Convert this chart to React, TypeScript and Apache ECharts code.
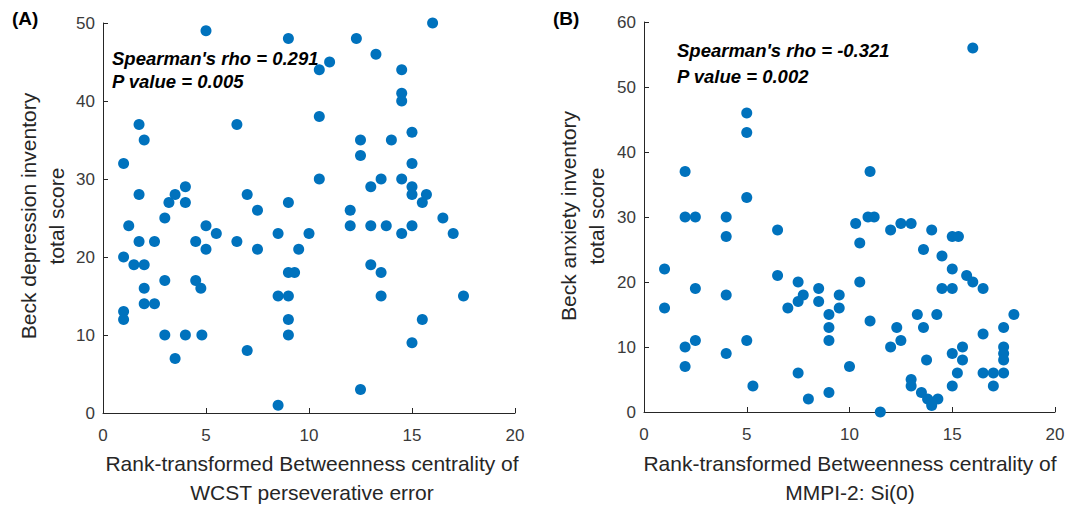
import React, { useEffect, useRef } from "react";
import * as echarts from "echarts";

// Panel A: WCST perseverative error vs BDI
const aX = [5, 9, 1.75, 2, 6.5, 1, 1.75, 4, 3.5, 3.2, 4, 7, 7.5, 9, 3, 1.25, 5,
  1.75, 2.5, 1, 1.5, 2, 2, 3, 2, 2.5, 1, 1, 3, 4, 4.8, 3.5, 4.5, 4.75, 4.5, 5.5, 5, 6.5, 7.5, 7, 8.5, 10, 9.5, 8.5, 9, 9.3, 8.5, 9, 9, 9,
  16, 12.3, 13.25, 11, 10.5, 14.5, 14.5, 14.5, 10.5, 15, 12.5, 14, 12.5, 15, 10.5, 13.5, 14.5, 13, 15, 15, 15.7, 15.5, 12, 16.5, 12, 13, 13.75, 15,
  14.5, 17, 13, 13.5, 13.5, 17.5, 15.5, 15, 12.5];
const aY = [49, 48, 37, 35, 37, 32, 28, 29, 28, 27, 27, 28, 26, 27, 25, 24, 24,
  22, 22, 20, 19, 19, 16, 17, 14, 14, 13, 12, 10, 10, 10, 7, 17, 16, 22, 23, 21, 22, 21, 8, 23, 23, 21, 1, 18, 18, 15, 15, 12, 10,
  50, 48, 46, 45, 44, 44, 41, 40, 38, 36, 35, 35, 33, 32, 30, 30, 30, 29, 29, 28, 28, 27, 26, 25, 24, 24, 24, 24,
  23, 23, 19, 18, 15, 15, 12, 9, 3];

// Panel B: MMPI-2 Si(0) vs BAI
const bX = [5, 5, 2, 5, 2, 2.5, 4, 16, 11, 10.3, 10.9, 11.2, 12, 12.5, 13, 14, 4, 6.5, 1, 6.5, 7.5, 2.5, 4, 7.75, 7.5, 8.5, 8.5, 9.5, 9.5, 7, 9, 9, 9, 1, 2.5, 2, 2, 4, 5, 5.3, 7.5, 8, 9, 10,
  15, 15.3, 10.5, 13.6, 14.5, 15, 15.7, 16, 16.5, 14.5, 15, 10.5, 11, 13.3, 14.25, 12.3, 13.6, 18, 17.5, 16.5, 12.5, 12, 13.75, 15, 15.5, 15.5, 17.5, 17.5, 17.5, 15.25, 16.5, 17, 17.5, 17, 15, 13, 13, 13.5, 13.8, 14, 14.3, 14, 11.5];
const bY = [46, 43, 37, 33, 30, 30, 30, 56, 37, 29, 30, 30, 28, 29, 29, 28, 27, 28, 22, 21, 20, 19, 18, 18, 17, 19, 17, 18, 16, 16, 15, 13, 11, 16, 11, 10, 7, 9, 11, 4, 6, 2, 3, 7,
  27, 27, 26, 25, 24, 22, 21, 20, 19, 19, 19, 20, 14, 15, 15, 13, 13, 15, 13, 12, 11, 10, 8, 9, 10, 8, 10, 9, 8, 6, 6, 6, 6, 4, 4, 5, 4, 3, 2, 1, 2, 1.5, 0];

const xTicks = [0, 5, 10, 15, 20];
const FONT = "'Liberation Sans', Arial, Helvetica, sans-serif";
const BLUE = "#0072BD";
const AXIS = "#262626";
const LABEL = "#3a3a3a";

function pairs(xs: number[], ys: number[]) {
  return xs.map((x, i) => [x, ys[i]]);
}

export default function App() {
  const ref = useRef<HTMLDivElement>(null);
  useEffect(() => {
    document.body.style.margin = "0";
    if (!ref.current) return;
    const chart = echarts.init(ref.current, null, { renderer: "svg" });
    const axisCommon = {
      axisLine: { show: true, lineStyle: { color: AXIS, width: 1 } },
      axisTick: { show: true, inside: true, length: 5, lineStyle: { color: AXIS } },
      splitLine: { show: false },
      axisLabel: { color: LABEL, fontSize: 17, fontFamily: FONT },
    };
    const xAxisDef = (gi: number) => ({
      type: "value",
      gridIndex: gi,
      min: xTicks[0],
      max: xTicks[xTicks.length - 1],
      interval: 5,
      ...axisCommon,
      axisLabel: { ...axisCommon.axisLabel, margin: 14 },
    });
    const yAxisDef = (gi: number, max: number) => ({
      type: "value",
      gridIndex: gi,
      min: 0,
      max,
      interval: 10,
      ...axisCommon,
      axisLabel: { ...axisCommon.axisLabel, margin: 8 },
    });
    const nameStyle = { fill: "#262626", font: `21px ${FONT}`, textAlign: "center", textVerticalAlign: "middle", lineHeight: 28 };
    const annStyle = { fill: "#000", font: `italic bold 18.5px ${FONT}`, textAlign: "left", textVerticalAlign: "middle" };
    chart.setOption({
      animation: false,
      grid: [
        { left: 103, top: 23, width: 412, height: 390 },
        { left: 644, top: 22, width: 411, height: 390 },
      ],
      xAxis: [xAxisDef(0), xAxisDef(1)],
      yAxis: [yAxisDef(0, 50), yAxisDef(1, 60)],
      series: [
        {
          type: "scatter",
          xAxisIndex: 0,
          yAxisIndex: 0,
          symbol: "circle",
          symbolSize: 11,
          itemStyle: { color: BLUE, opacity: 1 },
          data: pairs(aX, aY),
        },
        {
          type: "scatter",
          xAxisIndex: 1,
          yAxisIndex: 1,
          symbol: "circle",
          symbolSize: 11,
          itemStyle: { color: BLUE, opacity: 1 },
          data: pairs(bX, bY),
        },
      ],
      graphic: [
        { type: "text", left: 12, top: 9, style: { text: "(A)", fill: "#000", font: `bold 19px ${FONT}` } },
        { type: "text", left: 553, top: 9, style: { text: "(B)", fill: "#000", font: `bold 19px ${FONT}` } },
        { type: "text", x: 112, y: 58, style: { ...annStyle, text: "Spearman's rho = 0.291" } },
        { type: "text", x: 112, y: 81, style: { ...annStyle, text: "P value = 0.005" } },
        { type: "text", x: 677, y: 50, style: { ...annStyle, text: "Spearman's rho = -0.321" } },
        { type: "text", x: 677, y: 76, style: { ...annStyle, text: "P value = 0.002" } },
        { type: "text", x: 42, y: 216, rotation: Math.PI / 2, style: { ...nameStyle, text: "Beck depression inventory\ntotal score" } },
        { type: "text", x: 582, y: 216, rotation: Math.PI / 2, style: { ...nameStyle, text: "Beck anxiety inventory\ntotal score" } },
        { type: "text", x: 312, y: 478, style: { ...nameStyle, text: "Rank-transformed Betweenness centrality of\nWCST perseverative error", lineHeight: 29 } },
        { type: "text", x: 850, y: 478, style: { ...nameStyle, text: "Rank-transformed Betweenness centrality of\nMMPI-2: Si(0)", lineHeight: 29 } },
      ],
    });
    return () => chart.dispose();
  }, []);
  return <div ref={ref} style={{ width: 1079, height: 508 }} />;
}
